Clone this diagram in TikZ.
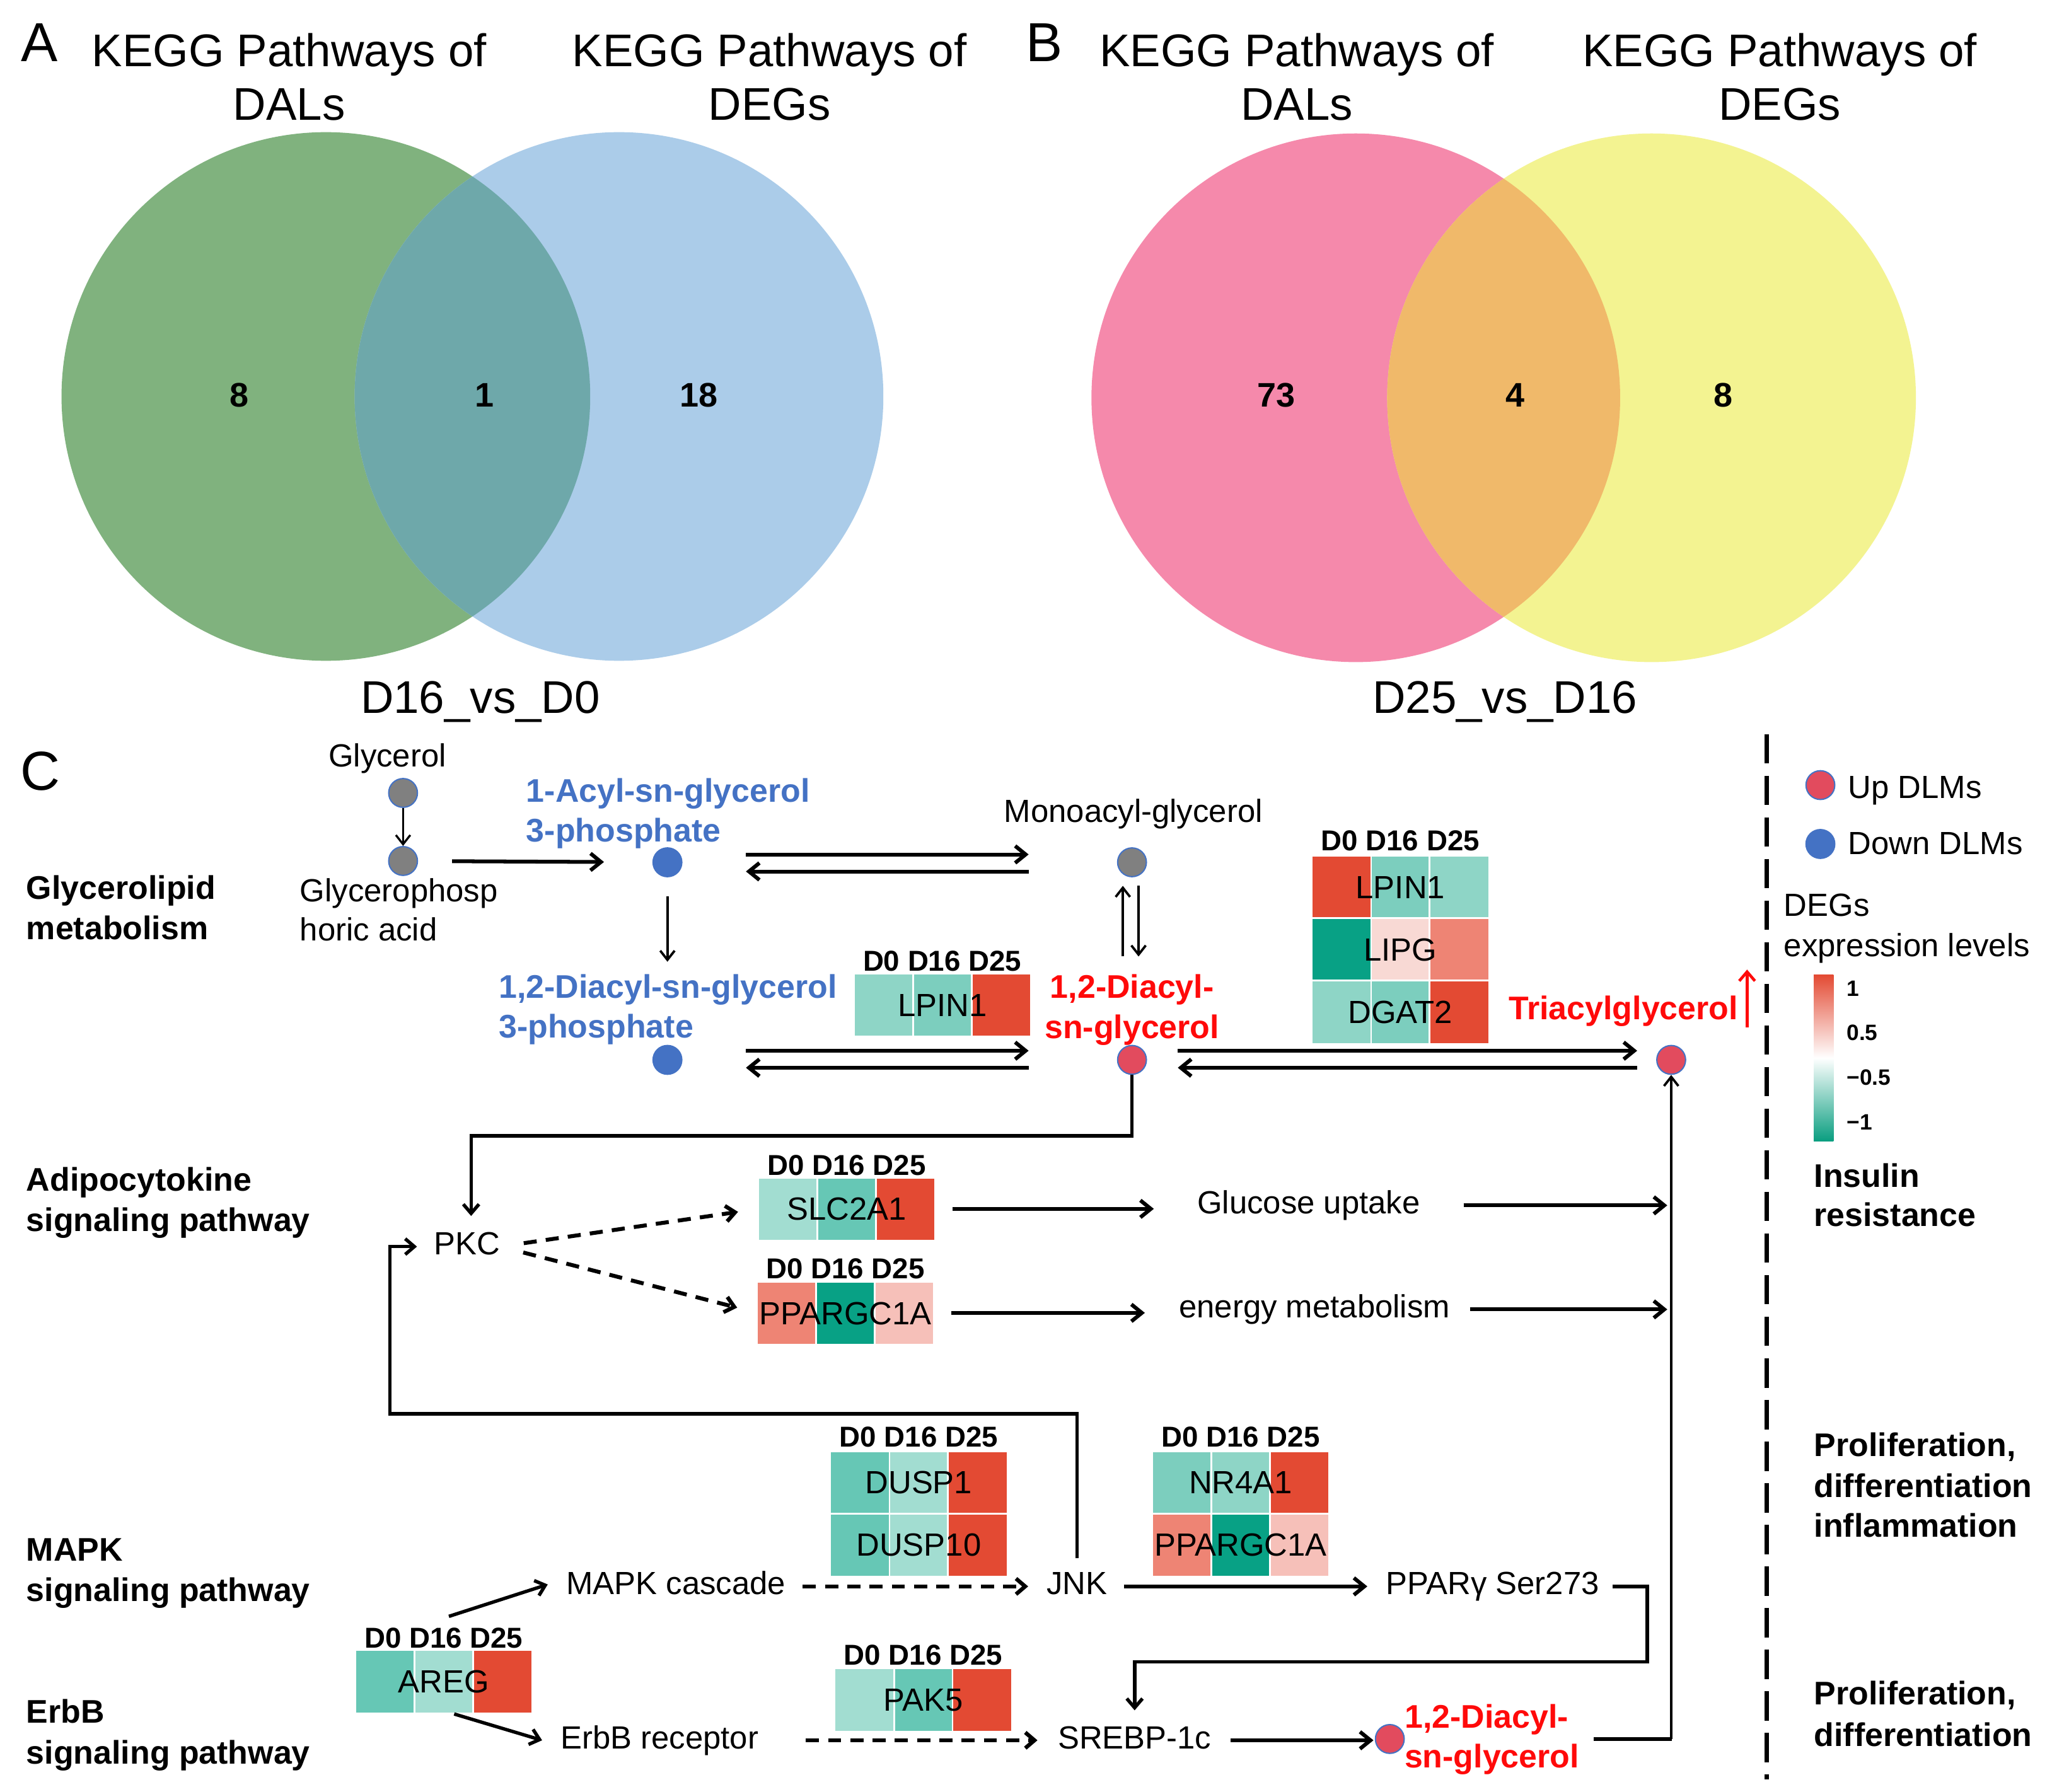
\documentclass[tikz,border=0pt]{standalone}
\usepackage{fontspec}
\setmainfont{Liberation Sans}
\usetikzlibrary{arrows.meta,calc}
\definecolor{vgreen}{HTML}{80B27E}
\definecolor{vblue}{HTML}{ABCCE9}
\definecolor{vlens}{HTML}{6EA8AA}
\definecolor{vpink}{HTML}{F589AB}
\definecolor{vyellow}{HTML}{F3F391}
\definecolor{vorange}{HTML}{F0B96A}
\definecolor{hred}{HTML}{E34A33}
\definecolor{hsal}{HTML}{EE8474}
\definecolor{hpink}{HTML}{F6C0B9}
\definecolor{hpale}{HTML}{F8D9D4}
\definecolor{hdteal}{HTML}{08A185}
\definecolor{hteal}{HTML}{66C7B5}
\definecolor{hmteal}{HTML}{7CCEBE}
\definecolor{hlteal}{HTML}{8ED5C6}
\definecolor{hxlteal}{HTML}{A2DDD1}
\definecolor{blueT}{HTML}{4472C4}
\definecolor{redT}{HTML}{FF0A0A}
\definecolor{dotred}{HTML}{E24B5E}
\definecolor{dotgray}{HTML}{808080}
\definecolor{cbteal}{HTML}{0A9E80}
\newcommand\hmrow[7]{%
  \fill[#4] (#2,#3) rectangle ++(44.7,47.7);
  \fill[#5] ({#2+44.7},#3) rectangle ++(44.7,47.7);
  \fill[#6] ({#2+89.4},#3) rectangle ++(44.7,47.7);
  \draw[white, line width=1.3pt] ({#2+44.7},#3) -- ++(0,47.7) ({#2+89.4},#3) -- ++(0,47.7) (#2,#3) -- ++(134.1,0);
  \node[gene, minimum width=134.1pt, minimum height=47.7pt] (#1) at ({#2+67.05},{#3+23.85}) {#7};}
\newcommand\hmhead[3]{\node[hdr, anchor=base] (#1) at (#2,#3) {D0 D16 D25};}
\begin{document}
\begin{tikzpicture}[x=1pt,y=-1pt,
  txt/.style={font=\fontsize{24.5}{28}\selectfont, inner sep=0pt, text height=17.5pt, text depth=4.9pt},
  btxt/.style={font=\fontsize{25}{30}\selectfont\bfseries, inner sep=0pt, text height=18pt, text depth=5pt},
  ttl/.style={font=\fontsize{35}{40}\selectfont, inner sep=0pt},
  pletter/.style={font=\fontsize{42}{48}\selectfont, inner sep=0pt},
  vnum/.style={font=\fontsize{26}{30}\selectfont\bfseries, inner sep=0pt},
  gene/.style={font=\fontsize{24.5}{28}\selectfont, inner sep=0pt, text height=17.5pt, text depth=0pt},
  hdr/.style={font=\fontsize{22}{26}\selectfont\bfseries, inner sep=0pt, text height=15.8pt, text depth=0pt},
  cbl/.style={font=\fontsize{17}{20}\selectfont\bfseries, inner sep=0pt},
  dot/.style={circle, minimum size=22pt, inner sep=0pt, draw=blueT, line width=1pt},
  upd/.style={dot, fill=dotred},
  dnd/.style={dot, fill=blueT},
  grd/.style={dot, fill=dotgray},
  arT/.style={line width=2.9pt, -{Straight Barb[length=8pt,width=13pt]}},
  arM/.style={line width=2.6pt, -{Straight Barb[length=7pt,width=12pt]}},
  arS/.style={line width=1.6pt, -{Straight Barb[length=7pt,width=11pt]}},
  dsh/.style={line width=3pt, dash pattern=on 10pt off 7pt}
]
\useasboundingbox (0,0) rectangle (1568,1369.5);
\fill[white] (0,0) rectangle (1568,1369.5);

% ---------------- Panel A
\fill[vgreen] (249,303) circle[radius=202pt];
\fill[vblue] (473,303) circle[radius=202pt];
\begin{scope}
  \clip (249,303) circle[radius=202pt];
  \fill[vlens] (473,303) circle[radius=202pt];
\end{scope}
\node[pletter, anchor=base] (pA) at (30,47) {A};
\node[ttl, anchor=base] (tA1) at (221,51) {KEGG Pathways of};
\node[ttl, anchor=base] (tA2) at (221,92) {DALs};
\node[ttl, anchor=base] (tA3) at (588,51) {KEGG Pathways of};
\node[ttl, anchor=base] (tA4) at (588,92) {DEGs};
\node[vnum, anchor=base] (nA1) at (183,311) {8};
\node[vnum, anchor=base] (nA2) at (370,311) {1};
\node[vnum, anchor=base] (nA3) at (534,311) {18};
\node[ttl, anchor=base] (sA) at (367,545) {D16\_vs\_D0};

% ---------------- Panel B
\fill[vpink] (1036,304) circle[radius=202pt];
\fill[vyellow] (1262,304) circle[radius=202pt];
\begin{scope}
  \clip (1036,304) circle[radius=202pt];
  \fill[vorange] (1262,304) circle[radius=202pt];
\end{scope}
\node[pletter, anchor=base] (pB) at (798,47) {B};
\node[ttl, anchor=base] (tB1) at (991,51) {KEGG Pathways of};
\node[ttl, anchor=base] (tB2) at (991,92) {DALs};
\node[ttl, anchor=base] (tB3) at (1360,51) {KEGG Pathways of};
\node[ttl, anchor=base] (tB4) at (1360,92) {DEGs};
\node[vnum, anchor=base] (nB1) at (975,311) {73};
\node[vnum, anchor=base] (nB2) at (1158,311) {4};
\node[vnum, anchor=base] (nB3) at (1317,311) {8};
\node[ttl, anchor=base] (sB) at (1150,545) {D25\_vs\_D16};

% ---------------- Panel C labels
\node[pletter, anchor=base] (pC) at (31,604) {C};
\node[btxt, anchor=base west] (L1a) at (20,687) {Glycerolipid};
\node[btxt, anchor=base west] (L1b) at (20,718) {metabolism};
\node[btxt, anchor=base west] (L2a) at (20,910) {Adipocytokine};
\node[btxt, anchor=base west] (L2b) at (20,941) {signaling pathway};
\node[btxt, anchor=base west] (L3a) at (20,1193) {MAPK};
\node[btxt, anchor=base west] (L3b) at (20,1224) {signaling pathway};
\node[btxt, anchor=base west] (L4a) at (20,1317) {ErbB};
\node[btxt, anchor=base west] (L4b) at (20,1348) {signaling pathway};

% ---------------- Glycerolipid metabolism
\node[txt, anchor=base] (glyt) at (296,586) {Glycerol};
\node[grd] (g1) at (308,606) {};
\node[grd] (g2) at (308,658) {};
\node[txt, anchor=base west] (gpa1) at (229,689) {Glycerophosp};
\node[txt, anchor=base west] (gpa2) at (229,719) {horic acid};
\node[btxt, text=blueT, anchor=base west] (lpa1) at (402,613) {1-Acyl-sn-glycerol};
\node[btxt, text=blueT, anchor=base west] (lpa2) at (402,643.5) {3-phosphate};
\node[dnd] (a1) at (510,659) {};
\node[btxt, text=blueT, anchor=base west] (pa1) at (381,763) {1,2-Diacyl-sn-glycerol};
\node[btxt, text=blueT, anchor=base west] (pa2) at (381,793) {3-phosphate};
\node[dnd] (b2) at (510,810) {};
\node[txt, anchor=base] (mgt) at (866,628.5) {Monoacyl-glycerol};
\node[grd] (m1) at (865,659) {};
\node[btxt, text=redT, anchor=base] (dg1) at (865,763) {1,2-Diacyl-};
\node[btxt, text=redT, anchor=base] (dg2) at (865,793.5) {sn-glycerol};
\node[upd] (r1) at (865,810) {};
\node[btxt, text=redT, anchor=base] (tagt) at (1240.5,779) {Triacylglycerol};
\node[upd] (t1) at (1277,810) {};

\draw[arS] (g1) -- (g2);
\draw[arT, shorten <=26pt, shorten >=37pt] (g2) -- (a1);
\draw[arT, shorten <=60pt, shorten >=79pt] ([yshift=6pt]a1.center) -- ([yshift=6pt]m1.center);
\draw[arT, shorten <=79pt, shorten >=60pt] ([yshift=-7pt]m1.center) -- ([yshift=-7pt]a1.center);
\draw[arS, line width=1.8pt, shorten <=26pt, shorten >=75pt] (a1.center) -- (b2.center);
\draw[arT, shorten <=60pt, shorten >=79pt] ([yshift=7pt]b2.center) -- ([yshift=7pt]r1.center);
\draw[arT, shorten <=79pt, shorten >=60pt] ([yshift=-6pt]r1.center) -- ([yshift=-6pt]b2.center);
\draw[arS, line width=1.8pt, shorten <=79pt, shorten >=18pt] ([xshift=-7pt]r1.center) -- ([xshift=-7pt]m1.center);
\draw[arS, line width=1.8pt, shorten <=18pt, shorten >=79pt] ([xshift=5pt]m1.center) -- ([xshift=5pt]r1.center);
\draw[arT, shorten <=35pt, shorten >=26pt] ([yshift=7pt]r1.center) -- ([yshift=7pt]t1.center);
\draw[arT, shorten <=26pt, shorten >=35pt] ([yshift=-6pt]t1.center) -- ([yshift=-6pt]r1.center);
\coordinate (rA) at (1335,785);
\coordinate (rB) at (1335,741);
\draw[redT, line width=2.2pt, -{Straight Barb[length=7pt,width=12pt]}] (rA) -- (rB);

% heatmaps of the glycerolipid row
\hmhead{h1}{720}{742}
\hmrow{lpinA}{653}{744}{hlteal}{hmteal}{hred}{LPIN1}
\hmhead{h2}{1070}{650}
\hmrow{lpinB}{1003}{654}{hred}{hmteal}{hlteal}{LPIN1}
\hmrow{lipg}{1003}{701.7}{hdteal}{hpale}{hsal}{LIPG}
\hmrow{dgat}{1003}{749.4}{hlteal}{hmteal}{hred}{DGAT2}

% ---------------- Adipocytokine
\node[txt, anchor=base] (pkc) at (357,959) {PKC};
\hmhead{h3}{647}{898}
\hmrow{slc}{580}{900}{hxlteal}{hteal}{hred}{SLC2A1}
\hmhead{h4}{646}{977}
\hmrow{pgcA}{579}{979.5}{hsal}{hdteal}{hpink}{PPARGC1A}
\node[txt, anchor=base] (glu) at (1000,927.5) {Glucose uptake};
\node[txt, anchor=base] (enm) at (1004.5,1007) {energy metabolism};

\coordinate (kB) at (360,868);
\draw[arM, shorten >=12pt] (r1.south) |- (kB) -- ([xshift=3pt]pkc.north);
\draw[arM, dsh, shorten <=18pt, shorten >=16pt] (pkc.east) -- (slc.west);
\draw[arM, dsh, shorten <=18pt, shorten >=16pt] (pkc.east) -- (pgcA.west);
\draw[arT, shorten <=13.5pt, shorten >=33pt] (slc.east) -- (slc.east -| glu.west);
\draw[arT, shorten <=13.5pt, shorten >=26pt] (pgcA.east) -- (pgcA.east -| enm.west);
\draw[arT, shorten <=33pt, shorten >=3pt] (glu.east) -- (glu.east -| t1);
\draw[arT, shorten <=15pt, shorten >=3pt] (enm.east) -- (enm.east -| t1);

% ---------------- MAPK
\hmhead{h5}{702}{1106}
\hmrow{dusp1}{635}{1109}{hteal}{hxlteal}{hred}{DUSP1}
\hmrow{dusp10}{635}{1156.7}{hteal}{hxlteal}{hred}{DUSP10}
\hmhead{h6}{948}{1106}
\hmrow{nr4a}{881}{1109}{hmteal}{hlteal}{hred}{NR4A1}
\hmrow{pgcB}{881}{1156.7}{hsal}{hdteal}{hpink}{PPARGC1A}
\node[txt, anchor=base] (mapk) at (516.5,1218.7) {MAPK cascade};
\node[txt, anchor=base] (jnk) at (823,1218.7) {JNK};
\node[txt, anchor=base] (ppar) at (1140.5,1218.7) {PPARγ Ser273};

\draw[arM, dsh, shorten <=13pt, shorten >=14pt] (mapk.east) -- (jnk.west);
\draw[arT, shorten <=12.5pt, shorten >=14pt] (jnk.east) -- (ppar.west);
\coordinate (jA) at (298,1080.5);
\draw[arM, shorten >=13pt] ([yshift=10pt]jnk.north) |- (jA) |- (pkc.west);

% ---------------- ErbB
\hmhead{h7}{339}{1259.3}
\hmrow{areg}{272}{1261}{hteal}{hxlteal}{hred}{AREG}
\hmhead{h8}{705.5}{1272.5}
\hmrow{pak}{638.5}{1275}{hxlteal}{hteal}{hred}{PAK5}
\node[txt, anchor=base] (erbr) at (504,1336.3) {ErbB receptor};
\node[txt, anchor=base] (srebp) at (867,1336.3) {SREBP-1c};
\node[upd] (r2) at (1062,1329) {};
\node[btxt, text=redT, anchor=base] (dg3) at (1136,1320.5) {1,2-Diacyl-};
\node[btxt, text=redT, anchor=base] (dg4) at (1140,1351) {sn-glycerol};

\draw[arM] ([xshift=4pt,yshift=8pt]h7.north) -- ([xshift=-14pt,yshift=1.5pt]mapk.west);
\draw[arM] ([xshift=8pt,yshift=-1pt]areg.south) -- ([xshift=-14pt]erbr.west);
\draw[arM, dsh, shorten <=36pt, shorten >=15.5pt] (erbr.east) -- (srebp.west);
\coordinate (pA) at (1258.8,1270);
\draw[arM, shorten >=11.5pt] ([xshift=10pt]ppar.east) -| (pA) -| (srebp.north);
\draw[arT, shorten <=14.5pt, shorten >=1pt] (srebp.east) -- (srebp.east -| r2.west);
\coordinate (vb) at (1277,1329);
\draw[line width=2.9pt] ([xshift=156pt]r2.center) -- ([xshift=0.7pt]vb);
\draw[arS, line width=1.8pt] (vb) -- (t1);

% ---------------- Legend / right column
\draw[line width=3pt, dash pattern=on 22.5pt off 9.3pt] (1350,561) -- (1350,1360);
\node[upd] (lgu) at (1391,600) {};
\node[txt, anchor=base west] (lgut) at (1412,610) {Up DLMs};
\node[dnd] (lgd) at (1391,645) {};
\node[txt, anchor=base west] (lgdt) at (1412,653) {Down DLMs};
\node[txt, anchor=base west] (deg1) at (1363,700) {DEGs};
\node[txt, anchor=base west] (deg2) at (1363,731) {expression levels};
\shade[top color=hred, bottom color=cbteal, middle color=white] (1386,745) rectangle (1401,872);
\node[cbl, anchor=base west] (cb1) at (1411,761.5) {1};
\node[cbl, anchor=base west] (cb2) at (1411,795) {0.5};
\node[cbl, anchor=base west] (cb3) at (1411,829.5) {−0.5};
\node[cbl, anchor=base west] (cb4) at (1411,863.5) {−1};
\node[btxt, anchor=base west] (ins1) at (1386,907.5) {Insulin};
\node[btxt, anchor=base west] (ins2) at (1386,937) {resistance};
\node[btxt, anchor=base west] (pr1) at (1386,1113) {Proliferation,};
\node[btxt, anchor=base west] (pr2) at (1386,1144.5) {differentiation};
\node[btxt, anchor=base west] (pr3) at (1386,1174.5) {inflammation};
\node[btxt, anchor=base west] (pr4) at (1386,1303) {Proliferation,};
\node[btxt, anchor=base west] (pr5) at (1386,1334.5) {differentiation};
\end{tikzpicture}
\end{document}
